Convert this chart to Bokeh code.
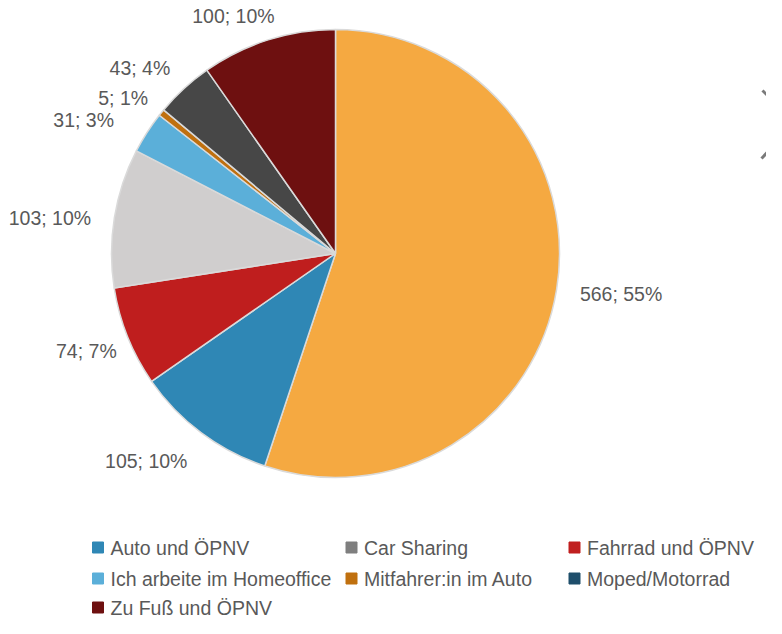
import numpy as np
from bokeh.plotting import figure
from bokeh.models import Range1d, ColumnDataSource
from bokeh.embed import file_html
from bokeh.resources import INLINE
from bokeh.core.properties import value

# ---- data (pie order, clockwise from 12 o'clock) ----
slice_names = ["Auto", "Auto und ÖPNV", "Fahrrad und ÖPNV", "ÖPNV",
               "Ich arbeite im Homeoffice", "Mitfahrer:in im Auto",
               "Sonstiges", "Zu Fuß und ÖPNV"]
slice_values = [566, 105, 74, 103, 31, 5, 43, 100]
slice_pct = [55, 10, 7, 10, 3, 1, 4, 10]
slice_colors = ["#F5A941", "#2F87B5", "#BF1E1E", "#D0CECE",
                "#5BAFD9", "#C0700F", "#474747", "#6E1010"]

# ---- visible legend entries ----
legend_names = ["Auto und ÖPNV", "Car Sharing", "Fahrrad und ÖPNV",
                "Ich arbeite im Homeoffice", "Mitfahrer:in im Auto", "Moped/Motorrad",
                "Zu Fuß und ÖPNV"]
legend_colors = ["#2F87B5", "#7F7F7F", "#C01F1F",
                 "#5BAFD9", "#C0700F", "#1E4E6B",
                 "#6E1010"]

# layout nudges for the outside labels (pixels, best-fit placement)
label_dx = [10, -22, 0, -10, -26, -8, -14, -18]
label_dy = [-1, -9, -5, -4, 0, 0, 3, 1]

FONT = "Liberation Sans"
TXT = "#595959"
FSZ = 19.5
FS = f"{FSZ}px"

W, H = 766, 618
# data coords: x = pixel x, y = H - pixel y
p = figure(width=W, height=H, output_backend="svg", toolbar_location=None,
           x_range=Range1d(0, W), y_range=Range1d(0, H),
           x_axis_type=None, y_axis_type=None, min_border=0,
           outline_line_color=None, background_fill_color="white",
           border_fill_color="white")
p.grid.visible = False

cx, cy, R = 335, H - 253, 224

vals = np.array(slice_values, dtype=float)
total = vals.sum()
cum = np.cumsum(vals)
before = cum - vals
start = np.pi / 2 - 2 * np.pi * cum / total
end = np.pi / 2 - 2 * np.pi * before / total
mid = (start + end) / 2

labels = [f"{v}; {q}%" for v, q in zip(slice_values, slice_pct)]
cw = {";": 0.278, " ": 0.278, "%": 0.889}
tw = np.array([sum(cw.get(c, 0.556) for c in s) * FSZ for s in labels])
th = FSZ * 1.0
gap = 14
lxs = cx + (R + gap) * np.cos(mid) + tw / 2 * np.cos(mid) + np.array(label_dx)
lys = cy + (R + gap) * np.sin(mid) + th / 2 * np.sin(mid) + np.array(label_dy)

src = ColumnDataSource(dict(
    name=slice_names, start=start, end=end, color=slice_colors,
    lx=lxs, ly=lys, label=labels,
))

p.wedge(x=cx, y=cy, radius=R, start_angle="start", end_angle="end",
        fill_color="color", line_color="#DADADA", line_width=1.5, source=src)

p.text(x="lx", y="ly", text="label", source=src, text_font=value(FONT),
       text_font_size=FS, text_color=TXT, text_align="center",
       text_baseline="middle")

# ---- legend ----
col_x = [97.5, 351, 574]
row_y = [547, 578, 607]
lx, ly = [], []
for i in range(len(legend_names)):
    lx.append(col_x[i % 3])
    ly.append(H - row_y[i // 3])
lsrc = ColumnDataSource(dict(x=lx, y=ly, tx=[v + 12.5 for v in lx],
                             name=legend_names, color=legend_colors))
p.scatter(x="x", y="y", marker="square", size=11, fill_color="color",
          line_color="color", source=lsrc)
p.text(x="tx", y="y", text="name", source=lsrc, text_font=value(FONT),
       text_font_size=FS, text_color=TXT, text_align="left",
       text_baseline="middle")

# ---- partial close glyph at right edge ----
p.segment(x0=[762, 761], y0=[H - 90, H - 158], x1=[782, 782], y1=[H - 110, H - 136],
          line_color="#7A7A7A", line_width=3)

open("out.html", "w").write(file_html(p, INLINE))
